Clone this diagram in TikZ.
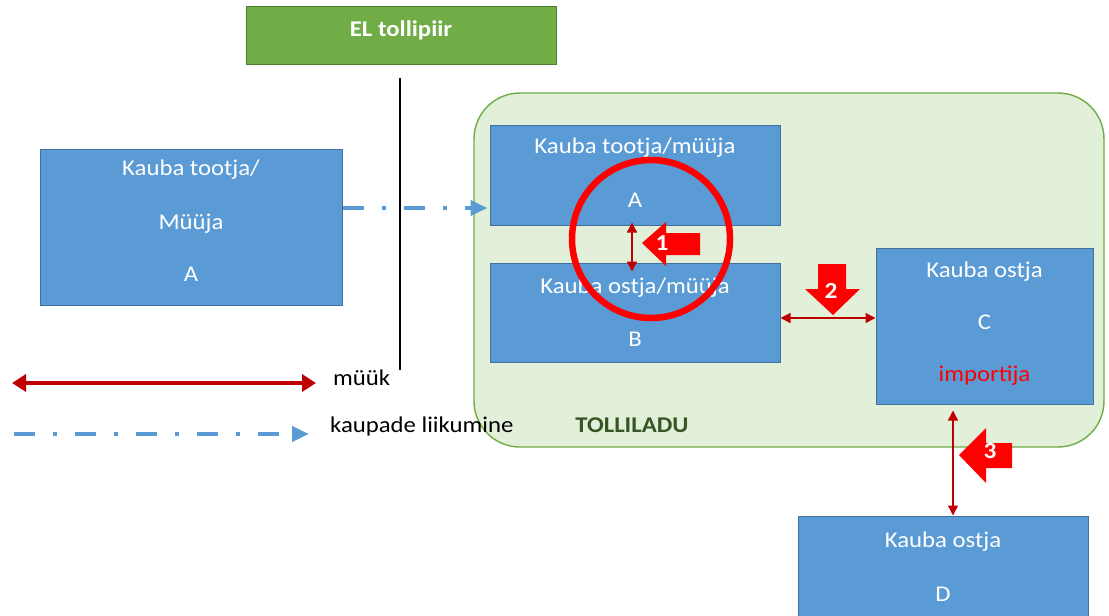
\documentclass[tikz,border=0pt]{standalone}
\usepackage{fontspec}
\setmainfont[FakeStretch=1.1]{Carlito}
\usetikzlibrary{arrows.meta}

\definecolor{boxblue}{HTML}{5B9BD5}
\definecolor{boxedge}{HTML}{41719C}
\definecolor{zonefill}{HTML}{E2F0D9}
\definecolor{zoneedge}{HTML}{70AD47}
\definecolor{borderfill}{HTML}{70AD47}
\definecolor{borderedge}{HTML}{507E32}
\definecolor{salered}{HTML}{C00000}
\definecolor{markred}{HTML}{FF0000}
\definecolor{zonetext}{HTML}{375623}
\definecolor{goodsblue}{HTML}{5B9BD5}

\newcommand\lblfont{\fontsize{22.5}{26}\selectfont}
\newcommand\numfont{\fontsize{23}{26}\selectfont\bfseries}

\tikzset{
  party/.style={draw=boxedge, line width=1pt, fill=boxblue, minimum width=#1, inner sep=0pt},
  boxtext/.style={font=\lblfont, text=white, inner sep=0pt, yshift=-2pt},
  plaintext/.style={font=\lblfont, text=black, inner sep=0pt},
  sale/.style={draw=salered, line width=1.4pt, {Triangle[length=10pt,width=10pt]}-{Triangle[length=10pt,width=10pt]}},
  legendsale/.style={draw=salered, line width=3.6pt, {Triangle[length=14pt,width=17pt]}-{Triangle[length=14pt,width=17pt]}},
  goods/.style={draw=goodsblue, line width=4.2pt, dash pattern=on 21pt off 18pt on 4pt off 18pt, -{Triangle[length=17pt,width=15pt]}},
  marker/.style={fill=markred, draw=none},
  marknum/.style={font=\numfont, text=white, inner sep=0pt},
}

\begin{document}
\begin{tikzpicture}[x=1pt, y=-1pt]
\useasboundingbox (0,0) rectangle (1109,616);
\clip (0,0) rectangle (1109,616);

% EU customs border
\node[draw=borderedge, line width=1pt, fill=borderfill, minimum width=310pt, minimum height=58pt, inner sep=0pt] (border) at (401,35) {};
\node[font=\lblfont\bfseries, text=white, inner sep=0pt] (bordertxt) at (401,30) {EL tollipiir};
\coordinate (linetop) at (400,78);
\coordinate (linebot) at (400,370);
\draw[black, line width=2.6pt] (linetop) -- (linebot);

% customs warehouse zone
\draw[draw=zoneedge, line width=1.4pt, fill=zonefill, rounded corners=46pt] (474,93) rectangle (1104,447);
\node[font=\lblfont\bfseries, text=zonetext, inner sep=0pt] (zonelabel) at (632,425) {TOLLILADU};

% parties
\node[party=302pt, minimum height=156pt] (seller) at (191,227) {};
\node[boxtext] at (191,168) {Kauba tootja/};
\node[boxtext] at (191,222) {Müüja};
\node[boxtext] at (191,272) {A};

\node[party=290pt, minimum height=100pt] (boxA) at (635,175) {};
\node[boxtext] at (635,146) {Kauba tootja/müüja};
\node[boxtext] at (635,198) {A};

\node[party=290pt, minimum height=99pt] (boxB) at (635,312.5) {};
\node[boxtext] at (635,286) {Kauba ostja/müüja};
\node[boxtext] at (635,337) {B};

\node[party=217pt, minimum height=156pt] (boxC) at (984.5,326) {};
\node[boxtext] at (984.5,270) {Kauba ostja};
\node[boxtext] at (984.5,320) {C};
\node[boxtext, text=markred] at (984.5,374) {importija};

\node[party=290pt, minimum height=100pt] (boxD) at (943,566) {};
\node[boxtext] at (943,540) {Kauba ostja};
\node[boxtext] at (943,592) {D};

% movement of goods into the warehouse
\coordinate (goodsy) at (0,208);
\draw[goods] (seller.east |- goodsy) -- ([xshift=-2pt]boxA.west |- goodsy);

% sales between parties
\coordinate (s1x) at (632,0);
\coordinate (s2y) at (0,318);
\coordinate (s3x) at (953,0);
\draw[sale] ([yshift=3pt]boxA.south -| s1x) -- ([yshift=-9pt]boxB.north -| s1x);
\draw[sale] (boxB.east |- s2y) -- (boxC.west |- s2y);
\draw[sale] ([yshift=-6pt]boxC.south -| s3x) -- (boxD.north -| s3x);

% highlight ring
\draw[markred, line width=6.5pt] (651,239) circle (79pt);

% numbered markers
\fill[marker] (642,243) -- (666,222) -- (666,233) -- (700,233) -- (700,255) -- (666,255) -- (666,266) -- cycle;
\node[marknum] (m1) at (662,243) {1};
\fill[marker] (833,315) -- (805,289) -- (818,289) -- (818,264) -- (846,264) -- (846,289) -- (860,289) -- cycle;
\node[marknum] (m2) at (831,291) {2};
\fill[marker] (959,455) -- (986,428) -- (986,443) -- (1012,443) -- (1012,468) -- (986,468) -- (986,483) -- cycle;
\node[marknum] (m3) at (990,451) {3};

% legend
\coordinate (saleL) at (12,383);
\coordinate (saleR) at (316,383);
\draw[legendsale] (saleL) -- (saleR);
\node[plaintext, anchor=west] (salelbl) at (333,378) {müük};
\coordinate (goodsL) at (14,434);
\coordinate (goodsR) at (309,434);
\draw[goods] (goodsL) -- (goodsR);
\node[plaintext, anchor=west] (goodslbl) at (330,426) {kaupade liikumine};
\end{tikzpicture}
\end{document}
